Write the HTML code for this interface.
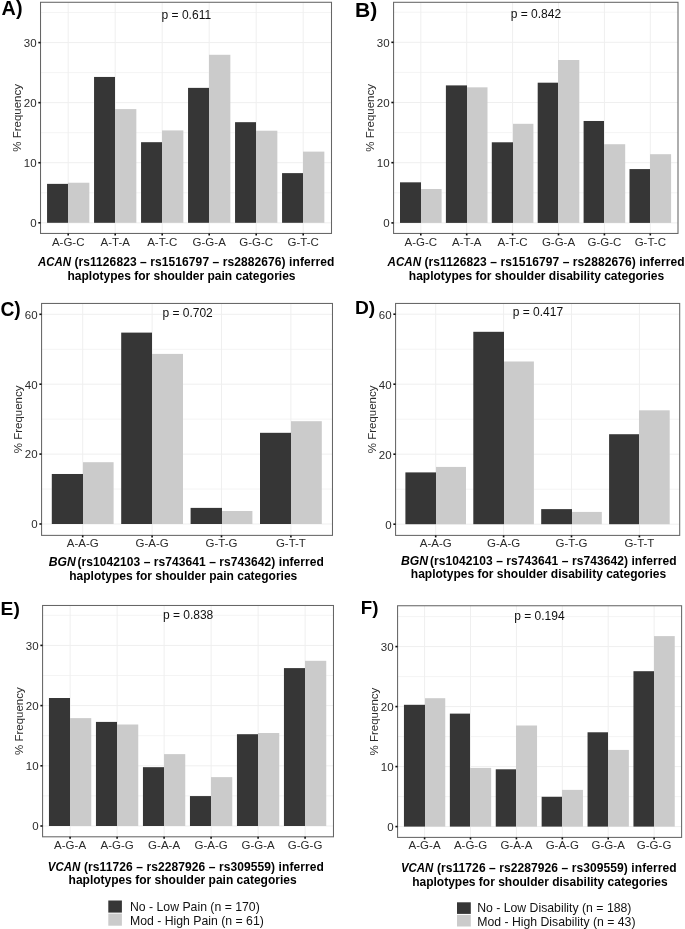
<!DOCTYPE html>
<html><head><meta charset="utf-8"><style>
html,body{margin:0;padding:0;background:#fff;}
body{width:685px;height:929px;overflow:hidden;}
svg{display:block;will-change:transform;}
text{font-family:"Liberation Sans",sans-serif;}
.tk{font-size:11.5px;fill:#2b2b2b;}
.yt{font-size:11.5px;fill:#2b2b2b;}
.pv{font-size:12.0px;fill:#111;}
.ti{font-size:12.0px;font-weight:bold;fill:#000;}
.lb{font-size:19.0px;font-weight:bold;fill:#000;}
.lg{font-size:12.25px;fill:#111;}
</style></head><body>
<svg width="685" height="929" viewBox="0 0 685 929">
<rect width="685" height="929" fill="#fff"/>
<line x1="40.52" x2="331.5" y1="192.77" y2="192.77" stroke="#f4f4f4" stroke-width="1"/>
<line x1="40.52" x2="331.5" y1="132.7" y2="132.7" stroke="#f4f4f4" stroke-width="1"/>
<line x1="40.52" x2="331.5" y1="72.63" y2="72.63" stroke="#f4f4f4" stroke-width="1"/>
<line x1="40.52" x2="331.5" y1="12.56" y2="12.56" stroke="#f4f4f4" stroke-width="1"/>
<line x1="40.52" x2="331.5" y1="222.8" y2="222.8" stroke="#efefef" stroke-width="1"/>
<line x1="40.52" x2="331.5" y1="162.73" y2="162.73" stroke="#efefef" stroke-width="1"/>
<line x1="40.52" x2="331.5" y1="102.66" y2="102.66" stroke="#efefef" stroke-width="1"/>
<line x1="40.52" x2="331.5" y1="42.59" y2="42.59" stroke="#efefef" stroke-width="1"/>
<line x1="68.2" x2="68.2" y1="2.28" y2="233.45" stroke="#efefef" stroke-width="1"/>
<line x1="115.2" x2="115.2" y1="2.28" y2="233.45" stroke="#efefef" stroke-width="1"/>
<line x1="162.2" x2="162.2" y1="2.28" y2="233.45" stroke="#efefef" stroke-width="1"/>
<line x1="209.2" x2="209.2" y1="2.28" y2="233.45" stroke="#efefef" stroke-width="1"/>
<line x1="256.2" x2="256.2" y1="2.28" y2="233.45" stroke="#efefef" stroke-width="1"/>
<line x1="303.2" x2="303.2" y1="2.28" y2="233.45" stroke="#efefef" stroke-width="1"/>
<rect x="68" y="182.73" width="21.35" height="40.07" fill="#cbcbcb"/>
<rect x="47.05" y="183.87" width="20.95" height="38.93" fill="#363636"/>
<rect x="115" y="109.09" width="21.35" height="113.71" fill="#cbcbcb"/>
<rect x="94.05" y="76.95" width="20.95" height="145.85" fill="#363636"/>
<rect x="162" y="130.41" width="21.35" height="92.39" fill="#cbcbcb"/>
<rect x="141.05" y="142.19" width="20.95" height="80.61" fill="#363636"/>
<rect x="209" y="54.78" width="21.35" height="168.02" fill="#cbcbcb"/>
<rect x="188.05" y="87.88" width="20.95" height="134.92" fill="#363636"/>
<rect x="256" y="130.71" width="21.35" height="92.09" fill="#cbcbcb"/>
<rect x="235.05" y="122.18" width="20.95" height="100.62" fill="#363636"/>
<rect x="303" y="151.62" width="21.35" height="71.18" fill="#cbcbcb"/>
<rect x="282.05" y="173.12" width="20.95" height="49.68" fill="#363636"/>
<rect x="40.52" y="2.28" width="290.98" height="231.17" fill="none" stroke="#666666" stroke-width="1.05"/>
<line x1="38.32" x2="40.52" y1="222.8" y2="222.8" stroke="#111111" stroke-width="1.6"/>
<text x="36.62" y="227.1" text-anchor="end" class="tk">0</text>
<line x1="38.32" x2="40.52" y1="162.73" y2="162.73" stroke="#111111" stroke-width="1.6"/>
<text x="36.62" y="167.03" text-anchor="end" class="tk">10</text>
<line x1="38.32" x2="40.52" y1="102.66" y2="102.66" stroke="#111111" stroke-width="1.6"/>
<text x="36.62" y="106.96" text-anchor="end" class="tk">20</text>
<line x1="38.32" x2="40.52" y1="42.59" y2="42.59" stroke="#111111" stroke-width="1.6"/>
<text x="36.62" y="46.89" text-anchor="end" class="tk">30</text>
<line x1="68.2" x2="68.2" y1="233.45" y2="235.45" stroke="#111111" stroke-width="1.6"/>
<text x="68.2" y="246.4" text-anchor="middle" class="tk">A-G-C</text>
<line x1="115.2" x2="115.2" y1="233.45" y2="235.45" stroke="#111111" stroke-width="1.6"/>
<text x="115.2" y="246.4" text-anchor="middle" class="tk">A-T-A</text>
<line x1="162.2" x2="162.2" y1="233.45" y2="235.45" stroke="#111111" stroke-width="1.6"/>
<text x="162.2" y="246.4" text-anchor="middle" class="tk">A-T-C</text>
<line x1="209.2" x2="209.2" y1="233.45" y2="235.45" stroke="#111111" stroke-width="1.6"/>
<text x="209.2" y="246.4" text-anchor="middle" class="tk">G-G-A</text>
<line x1="256.2" x2="256.2" y1="233.45" y2="235.45" stroke="#111111" stroke-width="1.6"/>
<text x="256.2" y="246.4" text-anchor="middle" class="tk">G-G-C</text>
<line x1="303.2" x2="303.2" y1="233.45" y2="235.45" stroke="#111111" stroke-width="1.6"/>
<text x="303.2" y="246.4" text-anchor="middle" class="tk">G-T-C</text>
<text transform="translate(20.92,117.86) rotate(-90)" text-anchor="middle" class="yt">% Frequency</text>
<text x="186.35" y="19" text-anchor="middle" class="pv">p = 0.611</text>
<text x="37.9" y="266.2" class="ti" font-style="italic" textLength="33" lengthAdjust="spacingAndGlyphs">ACAN</text>
<text x="74.4" y="266.2" class="ti" textLength="260" lengthAdjust="spacing">(rs1126823 – rs1516797 – rs2882676) inferred</text>
<text x="181.5" y="280" text-anchor="middle" class="ti">haplotypes for shoulder pain categories</text>
<text x="1.6" y="15" class="lb" style="font-size:19.8px">A)</text>
<line x1="393.57" x2="678" y1="192.8" y2="192.8" stroke="#f4f4f4" stroke-width="1"/>
<line x1="393.57" x2="678" y1="132.6" y2="132.6" stroke="#f4f4f4" stroke-width="1"/>
<line x1="393.57" x2="678" y1="72.4" y2="72.4" stroke="#f4f4f4" stroke-width="1"/>
<line x1="393.57" x2="678" y1="12.2" y2="12.2" stroke="#f4f4f4" stroke-width="1"/>
<line x1="393.57" x2="678" y1="222.9" y2="222.9" stroke="#efefef" stroke-width="1"/>
<line x1="393.57" x2="678" y1="162.7" y2="162.7" stroke="#efefef" stroke-width="1"/>
<line x1="393.57" x2="678" y1="102.5" y2="102.5" stroke="#efefef" stroke-width="1"/>
<line x1="393.57" x2="678" y1="42.3" y2="42.3" stroke="#efefef" stroke-width="1"/>
<line x1="420.8" x2="420.8" y1="2.3" y2="233.45" stroke="#efefef" stroke-width="1"/>
<line x1="466.7" x2="466.7" y1="2.3" y2="233.45" stroke="#efefef" stroke-width="1"/>
<line x1="512.6" x2="512.6" y1="2.3" y2="233.45" stroke="#efefef" stroke-width="1"/>
<line x1="558.5" x2="558.5" y1="2.3" y2="233.45" stroke="#efefef" stroke-width="1"/>
<line x1="604.4" x2="604.4" y1="2.3" y2="233.45" stroke="#efefef" stroke-width="1"/>
<line x1="650.3" x2="650.3" y1="2.3" y2="233.45" stroke="#efefef" stroke-width="1"/>
<rect x="421" y="189.01" width="20.6" height="33.89" fill="#cbcbcb"/>
<rect x="400" y="182.33" width="21" height="40.57" fill="#363636"/>
<rect x="467" y="87.33" width="20.5" height="135.57" fill="#cbcbcb"/>
<rect x="445.9" y="85.4" width="21.1" height="137.5" fill="#363636"/>
<rect x="513" y="123.81" width="20.4" height="99.09" fill="#cbcbcb"/>
<rect x="491.8" y="142.29" width="21.2" height="80.61" fill="#363636"/>
<rect x="558" y="60" width="21.3" height="162.9" fill="#cbcbcb"/>
<rect x="537.7" y="82.69" width="20.3" height="140.21" fill="#363636"/>
<rect x="604" y="144.22" width="21.2" height="78.68" fill="#cbcbcb"/>
<rect x="583.6" y="120.98" width="20.4" height="101.92" fill="#363636"/>
<rect x="650" y="154.21" width="21.1" height="68.69" fill="#cbcbcb"/>
<rect x="629.5" y="169.08" width="20.5" height="53.82" fill="#363636"/>
<rect x="393.57" y="2.3" width="284.43" height="231.15" fill="none" stroke="#666666" stroke-width="1.05"/>
<line x1="391.37" x2="393.57" y1="222.9" y2="222.9" stroke="#111111" stroke-width="1.6"/>
<text x="389.67" y="227.2" text-anchor="end" class="tk">0</text>
<line x1="391.37" x2="393.57" y1="162.7" y2="162.7" stroke="#111111" stroke-width="1.6"/>
<text x="389.67" y="167" text-anchor="end" class="tk">10</text>
<line x1="391.37" x2="393.57" y1="102.5" y2="102.5" stroke="#111111" stroke-width="1.6"/>
<text x="389.67" y="106.8" text-anchor="end" class="tk">20</text>
<line x1="391.37" x2="393.57" y1="42.3" y2="42.3" stroke="#111111" stroke-width="1.6"/>
<text x="389.67" y="46.6" text-anchor="end" class="tk">30</text>
<line x1="420.8" x2="420.8" y1="233.45" y2="235.45" stroke="#111111" stroke-width="1.6"/>
<text x="420.8" y="246.4" text-anchor="middle" class="tk">A-G-C</text>
<line x1="466.7" x2="466.7" y1="233.45" y2="235.45" stroke="#111111" stroke-width="1.6"/>
<text x="466.7" y="246.4" text-anchor="middle" class="tk">A-T-A</text>
<line x1="512.6" x2="512.6" y1="233.45" y2="235.45" stroke="#111111" stroke-width="1.6"/>
<text x="512.6" y="246.4" text-anchor="middle" class="tk">A-T-C</text>
<line x1="558.5" x2="558.5" y1="233.45" y2="235.45" stroke="#111111" stroke-width="1.6"/>
<text x="558.5" y="246.4" text-anchor="middle" class="tk">G-G-A</text>
<line x1="604.4" x2="604.4" y1="233.45" y2="235.45" stroke="#111111" stroke-width="1.6"/>
<text x="604.4" y="246.4" text-anchor="middle" class="tk">G-G-C</text>
<line x1="650.3" x2="650.3" y1="233.45" y2="235.45" stroke="#111111" stroke-width="1.6"/>
<text x="650.3" y="246.4" text-anchor="middle" class="tk">G-T-C</text>
<text transform="translate(373.97,117.88) rotate(-90)" text-anchor="middle" class="yt">% Frequency</text>
<text x="535.95" y="18" text-anchor="middle" class="pv">p = 0.842</text>
<text x="387.6" y="266.2" class="ti" font-style="italic" textLength="33.5" lengthAdjust="spacingAndGlyphs">ACAN</text>
<text x="424.5" y="266.2" class="ti" textLength="260" lengthAdjust="spacing">(rs1126823 – rs1516797 – rs2882676) inferred</text>
<text x="536.5" y="280" text-anchor="middle" class="ti">haplotypes for shoulder disability categories</text>
<text x="355" y="16.8" class="lb" style="font-size:21.1px">B)</text>
<line x1="41.57" x2="332.48" y1="489.05" y2="489.05" stroke="#f4f4f4" stroke-width="1"/>
<line x1="41.57" x2="332.48" y1="419.15" y2="419.15" stroke="#f4f4f4" stroke-width="1"/>
<line x1="41.57" x2="332.48" y1="349.25" y2="349.25" stroke="#f4f4f4" stroke-width="1"/>
<line x1="41.57" x2="332.48" y1="524" y2="524" stroke="#efefef" stroke-width="1"/>
<line x1="41.57" x2="332.48" y1="454.1" y2="454.1" stroke="#efefef" stroke-width="1"/>
<line x1="41.57" x2="332.48" y1="384.2" y2="384.2" stroke="#efefef" stroke-width="1"/>
<line x1="41.57" x2="332.48" y1="314.3" y2="314.3" stroke="#efefef" stroke-width="1"/>
<line x1="82.7" x2="82.7" y1="303.45" y2="535.38" stroke="#efefef" stroke-width="1"/>
<line x1="152.1" x2="152.1" y1="303.45" y2="535.38" stroke="#efefef" stroke-width="1"/>
<line x1="221.5" x2="221.5" y1="303.45" y2="535.38" stroke="#efefef" stroke-width="1"/>
<line x1="290.9" x2="290.9" y1="303.45" y2="535.38" stroke="#efefef" stroke-width="1"/>
<rect x="83" y="462.21" width="30.6" height="61.79" fill="#cbcbcb"/>
<rect x="51.8" y="473.99" width="31.2" height="50.01" fill="#363636"/>
<rect x="152" y="353.9" width="31" height="170.1" fill="#cbcbcb"/>
<rect x="121.2" y="332.61" width="30.8" height="191.39" fill="#363636"/>
<rect x="222" y="511" width="30.4" height="13" fill="#cbcbcb"/>
<rect x="190.6" y="507.89" width="31.4" height="16.11" fill="#363636"/>
<rect x="291" y="421.21" width="30.8" height="102.79" fill="#cbcbcb"/>
<rect x="260" y="432.82" width="31" height="91.18" fill="#363636"/>
<rect x="41.57" y="303.45" width="290.91" height="231.93" fill="none" stroke="#666666" stroke-width="1.05"/>
<line x1="39.37" x2="41.57" y1="524" y2="524" stroke="#111111" stroke-width="1.6"/>
<text x="37.67" y="528.3" text-anchor="end" class="tk">0</text>
<line x1="39.37" x2="41.57" y1="454.1" y2="454.1" stroke="#111111" stroke-width="1.6"/>
<text x="37.67" y="458.4" text-anchor="end" class="tk">20</text>
<line x1="39.37" x2="41.57" y1="384.2" y2="384.2" stroke="#111111" stroke-width="1.6"/>
<text x="37.67" y="388.5" text-anchor="end" class="tk">40</text>
<line x1="39.37" x2="41.57" y1="314.3" y2="314.3" stroke="#111111" stroke-width="1.6"/>
<text x="37.67" y="318.6" text-anchor="end" class="tk">60</text>
<line x1="82.7" x2="82.7" y1="535.38" y2="537.38" stroke="#111111" stroke-width="1.6"/>
<text x="82.7" y="547.2" text-anchor="middle" class="tk">A-A-G</text>
<line x1="152.1" x2="152.1" y1="535.38" y2="537.38" stroke="#111111" stroke-width="1.6"/>
<text x="152.1" y="547.2" text-anchor="middle" class="tk">G-A-G</text>
<line x1="221.5" x2="221.5" y1="535.38" y2="537.38" stroke="#111111" stroke-width="1.6"/>
<text x="221.5" y="547.2" text-anchor="middle" class="tk">G-T-G</text>
<line x1="290.9" x2="290.9" y1="535.38" y2="537.38" stroke="#111111" stroke-width="1.6"/>
<text x="290.9" y="547.2" text-anchor="middle" class="tk">G-T-T</text>
<text transform="translate(21.97,419.41) rotate(-90)" text-anchor="middle" class="yt">% Frequency</text>
<text x="187.6" y="316.8" text-anchor="middle" class="pv">p = 0.702</text>
<text x="48.7" y="566.2" class="ti" font-style="italic" textLength="27" lengthAdjust="spacingAndGlyphs">BGN</text>
<text x="77.5" y="566.2" class="ti" textLength="246.4" lengthAdjust="spacing">(rs1042103 – rs743641 – rs743642) inferred</text>
<text x="183.25" y="579.8" text-anchor="middle" class="ti">haplotypes for shoulder pain categories</text>
<text x="0.4" y="315.8" class="lb" style="font-size:19.3px">C)</text>
<line x1="395.57" x2="679.7" y1="489.2" y2="489.2" stroke="#f4f4f4" stroke-width="1"/>
<line x1="395.57" x2="679.7" y1="419.2" y2="419.2" stroke="#f4f4f4" stroke-width="1"/>
<line x1="395.57" x2="679.7" y1="349.2" y2="349.2" stroke="#f4f4f4" stroke-width="1"/>
<line x1="395.57" x2="679.7" y1="524.2" y2="524.2" stroke="#efefef" stroke-width="1"/>
<line x1="395.57" x2="679.7" y1="454.2" y2="454.2" stroke="#efefef" stroke-width="1"/>
<line x1="395.57" x2="679.7" y1="384.2" y2="384.2" stroke="#efefef" stroke-width="1"/>
<line x1="395.57" x2="679.7" y1="314.2" y2="314.2" stroke="#efefef" stroke-width="1"/>
<line x1="435.7" x2="435.7" y1="303.45" y2="535.4" stroke="#efefef" stroke-width="1"/>
<line x1="503.6" x2="503.6" y1="303.45" y2="535.4" stroke="#efefef" stroke-width="1"/>
<line x1="571.5" x2="571.5" y1="303.45" y2="535.4" stroke="#efefef" stroke-width="1"/>
<line x1="639.4" x2="639.4" y1="303.45" y2="535.4" stroke="#efefef" stroke-width="1"/>
<rect x="436" y="466.91" width="30" height="57.3" fill="#cbcbcb"/>
<rect x="405.4" y="472.4" width="30.6" height="51.8" fill="#363636"/>
<rect x="504" y="361.49" width="29.9" height="162.72" fill="#cbcbcb"/>
<rect x="473.3" y="331.81" width="30.7" height="192.39" fill="#363636"/>
<rect x="572" y="511.92" width="29.8" height="12.29" fill="#cbcbcb"/>
<rect x="541.2" y="509.12" width="30.8" height="15.08" fill="#363636"/>
<rect x="639" y="410.31" width="30.7" height="113.89" fill="#cbcbcb"/>
<rect x="609.1" y="434.22" width="29.9" height="89.98" fill="#363636"/>
<rect x="395.57" y="303.45" width="284.13" height="231.95" fill="none" stroke="#666666" stroke-width="1.05"/>
<line x1="393.37" x2="395.57" y1="524.2" y2="524.2" stroke="#111111" stroke-width="1.6"/>
<text x="391.67" y="528.5" text-anchor="end" class="tk">0</text>
<line x1="393.37" x2="395.57" y1="454.2" y2="454.2" stroke="#111111" stroke-width="1.6"/>
<text x="391.67" y="458.5" text-anchor="end" class="tk">20</text>
<line x1="393.37" x2="395.57" y1="384.2" y2="384.2" stroke="#111111" stroke-width="1.6"/>
<text x="391.67" y="388.5" text-anchor="end" class="tk">40</text>
<line x1="393.37" x2="395.57" y1="314.2" y2="314.2" stroke="#111111" stroke-width="1.6"/>
<text x="391.67" y="318.5" text-anchor="end" class="tk">60</text>
<line x1="435.7" x2="435.7" y1="535.4" y2="537.4" stroke="#111111" stroke-width="1.6"/>
<text x="435.7" y="547.2" text-anchor="middle" class="tk">A-A-G</text>
<line x1="503.6" x2="503.6" y1="535.4" y2="537.4" stroke="#111111" stroke-width="1.6"/>
<text x="503.6" y="547.2" text-anchor="middle" class="tk">G-A-G</text>
<line x1="571.5" x2="571.5" y1="535.4" y2="537.4" stroke="#111111" stroke-width="1.6"/>
<text x="571.5" y="547.2" text-anchor="middle" class="tk">G-T-G</text>
<line x1="639.4" x2="639.4" y1="535.4" y2="537.4" stroke="#111111" stroke-width="1.6"/>
<text x="639.4" y="547.2" text-anchor="middle" class="tk">G-T-T</text>
<text transform="translate(375.97,419.42) rotate(-90)" text-anchor="middle" class="yt">% Frequency</text>
<text x="537.9" y="315.8" text-anchor="middle" class="pv">p = 0.417</text>
<text x="400.9" y="565" class="ti" font-style="italic" textLength="27.2" lengthAdjust="spacingAndGlyphs">BGN</text>
<text x="429.9" y="565" class="ti" textLength="246.7" lengthAdjust="spacing">(rs1042103 – rs743641 – rs743642) inferred</text>
<text x="538.5" y="578" text-anchor="middle" class="ti">haplotypes for shoulder disability categories</text>
<text x="355" y="314.1" class="lb" style="font-size:19.2px">D)</text>
<line x1="42.57" x2="333.48" y1="795.9" y2="795.9" stroke="#f4f4f4" stroke-width="1"/>
<line x1="42.57" x2="333.48" y1="735.7" y2="735.7" stroke="#f4f4f4" stroke-width="1"/>
<line x1="42.57" x2="333.48" y1="675.5" y2="675.5" stroke="#f4f4f4" stroke-width="1"/>
<line x1="42.57" x2="333.48" y1="615.3" y2="615.3" stroke="#f4f4f4" stroke-width="1"/>
<line x1="42.57" x2="333.48" y1="826" y2="826" stroke="#efefef" stroke-width="1"/>
<line x1="42.57" x2="333.48" y1="765.8" y2="765.8" stroke="#efefef" stroke-width="1"/>
<line x1="42.57" x2="333.48" y1="705.6" y2="705.6" stroke="#efefef" stroke-width="1"/>
<line x1="42.57" x2="333.48" y1="645.4" y2="645.4" stroke="#efefef" stroke-width="1"/>
<line x1="70.1" x2="70.1" y1="605.48" y2="836.8" stroke="#efefef" stroke-width="1"/>
<line x1="117.1" x2="117.1" y1="605.48" y2="836.8" stroke="#efefef" stroke-width="1"/>
<line x1="164.1" x2="164.1" y1="605.48" y2="836.8" stroke="#efefef" stroke-width="1"/>
<line x1="211.1" x2="211.1" y1="605.48" y2="836.8" stroke="#efefef" stroke-width="1"/>
<line x1="258.1" x2="258.1" y1="605.48" y2="836.8" stroke="#efefef" stroke-width="1"/>
<line x1="305.1" x2="305.1" y1="605.48" y2="836.8" stroke="#efefef" stroke-width="1"/>
<rect x="70" y="718.12" width="21.25" height="107.88" fill="#cbcbcb"/>
<rect x="48.95" y="698.01" width="21.05" height="127.99" fill="#363636"/>
<rect x="117" y="724.5" width="21.25" height="101.5" fill="#cbcbcb"/>
<rect x="95.95" y="721.91" width="21.05" height="104.09" fill="#363636"/>
<rect x="164" y="754.12" width="21.25" height="71.88" fill="#cbcbcb"/>
<rect x="142.95" y="767.18" width="21.05" height="58.82" fill="#363636"/>
<rect x="211" y="777.12" width="21.25" height="48.88" fill="#cbcbcb"/>
<rect x="189.95" y="796.08" width="21.05" height="29.92" fill="#363636"/>
<rect x="258" y="732.99" width="21.25" height="93.01" fill="#cbcbcb"/>
<rect x="236.95" y="734.2" width="21.05" height="91.8" fill="#363636"/>
<rect x="305" y="660.81" width="21.25" height="165.19" fill="#cbcbcb"/>
<rect x="283.95" y="668.1" width="21.05" height="157.9" fill="#363636"/>
<rect x="42.57" y="605.48" width="290.91" height="231.32" fill="none" stroke="#666666" stroke-width="1.05"/>
<line x1="40.37" x2="42.57" y1="826" y2="826" stroke="#111111" stroke-width="1.6"/>
<text x="38.67" y="830.3" text-anchor="end" class="tk">0</text>
<line x1="40.37" x2="42.57" y1="765.8" y2="765.8" stroke="#111111" stroke-width="1.6"/>
<text x="38.67" y="770.1" text-anchor="end" class="tk">10</text>
<line x1="40.37" x2="42.57" y1="705.6" y2="705.6" stroke="#111111" stroke-width="1.6"/>
<text x="38.67" y="709.9" text-anchor="end" class="tk">20</text>
<line x1="40.37" x2="42.57" y1="645.4" y2="645.4" stroke="#111111" stroke-width="1.6"/>
<text x="38.67" y="649.7" text-anchor="end" class="tk">30</text>
<line x1="70.1" x2="70.1" y1="836.8" y2="838.8" stroke="#111111" stroke-width="1.6"/>
<text x="70.1" y="848.9" text-anchor="middle" class="tk">A-G-A</text>
<line x1="117.1" x2="117.1" y1="836.8" y2="838.8" stroke="#111111" stroke-width="1.6"/>
<text x="117.1" y="848.9" text-anchor="middle" class="tk">A-G-G</text>
<line x1="164.1" x2="164.1" y1="836.8" y2="838.8" stroke="#111111" stroke-width="1.6"/>
<text x="164.1" y="848.9" text-anchor="middle" class="tk">G-A-A</text>
<line x1="211.1" x2="211.1" y1="836.8" y2="838.8" stroke="#111111" stroke-width="1.6"/>
<text x="211.1" y="848.9" text-anchor="middle" class="tk">G-A-G</text>
<line x1="258.1" x2="258.1" y1="836.8" y2="838.8" stroke="#111111" stroke-width="1.6"/>
<text x="258.1" y="848.9" text-anchor="middle" class="tk">G-G-A</text>
<line x1="305.1" x2="305.1" y1="836.8" y2="838.8" stroke="#111111" stroke-width="1.6"/>
<text x="305.1" y="848.9" text-anchor="middle" class="tk">G-G-G</text>
<text transform="translate(22.97,721.14) rotate(-90)" text-anchor="middle" class="yt">% Frequency</text>
<text x="188.1" y="619.4" text-anchor="middle" class="pv">p = 0.838</text>
<text x="47.8" y="870.5" class="ti" font-style="italic" textLength="32.6" lengthAdjust="spacingAndGlyphs">VCAN</text>
<text x="84" y="870.5" class="ti" textLength="239.9" lengthAdjust="spacing">(rs11726 – rs2287926 – rs309559) inferred</text>
<text x="182.6" y="884" text-anchor="middle" class="ti">haplotypes for shoulder pain categories</text>
<text x="0.6" y="614.7" class="lb" style="font-size:19.2px">E)</text>
<line x1="397.57" x2="681.6" y1="796.6" y2="796.6" stroke="#f4f4f4" stroke-width="1"/>
<line x1="397.57" x2="681.6" y1="736.6" y2="736.6" stroke="#f4f4f4" stroke-width="1"/>
<line x1="397.57" x2="681.6" y1="676.6" y2="676.6" stroke="#f4f4f4" stroke-width="1"/>
<line x1="397.57" x2="681.6" y1="616.6" y2="616.6" stroke="#f4f4f4" stroke-width="1"/>
<line x1="397.57" x2="681.6" y1="826.6" y2="826.6" stroke="#efefef" stroke-width="1"/>
<line x1="397.57" x2="681.6" y1="766.6" y2="766.6" stroke="#efefef" stroke-width="1"/>
<line x1="397.57" x2="681.6" y1="706.6" y2="706.6" stroke="#efefef" stroke-width="1"/>
<line x1="397.57" x2="681.6" y1="646.6" y2="646.6" stroke="#efefef" stroke-width="1"/>
<line x1="424.6" x2="424.6" y1="605.75" y2="837.4" stroke="#efefef" stroke-width="1"/>
<line x1="470.5" x2="470.5" y1="605.75" y2="837.4" stroke="#efefef" stroke-width="1"/>
<line x1="516.4" x2="516.4" y1="605.75" y2="837.4" stroke="#efefef" stroke-width="1"/>
<line x1="562.3" x2="562.3" y1="605.75" y2="837.4" stroke="#efefef" stroke-width="1"/>
<line x1="608.2" x2="608.2" y1="605.75" y2="837.4" stroke="#efefef" stroke-width="1"/>
<line x1="654.1" x2="654.1" y1="605.75" y2="837.4" stroke="#efefef" stroke-width="1"/>
<rect x="425" y="698.2" width="20.25" height="128.4" fill="#cbcbcb"/>
<rect x="403.95" y="704.8" width="21.05" height="121.8" fill="#363636"/>
<rect x="470" y="767.92" width="21.15" height="58.68" fill="#cbcbcb"/>
<rect x="449.85" y="713.62" width="20.15" height="112.98" fill="#363636"/>
<rect x="516" y="725.5" width="21.05" height="101.1" fill="#cbcbcb"/>
<rect x="495.75" y="769.3" width="20.25" height="57.3" fill="#363636"/>
<rect x="562" y="789.88" width="20.95" height="36.72" fill="#cbcbcb"/>
<rect x="541.64" y="796.78" width="20.36" height="29.82" fill="#363636"/>
<rect x="608" y="749.92" width="20.86" height="76.68" fill="#cbcbcb"/>
<rect x="587.55" y="732.28" width="20.45" height="94.32" fill="#363636"/>
<rect x="654" y="636.1" width="20.75" height="190.5" fill="#cbcbcb"/>
<rect x="633.45" y="671.2" width="20.55" height="155.4" fill="#363636"/>
<rect x="397.57" y="605.75" width="284.03" height="231.65" fill="none" stroke="#666666" stroke-width="1.05"/>
<line x1="395.37" x2="397.57" y1="826.6" y2="826.6" stroke="#111111" stroke-width="1.6"/>
<text x="393.67" y="830.9" text-anchor="end" class="tk">0</text>
<line x1="395.37" x2="397.57" y1="766.6" y2="766.6" stroke="#111111" stroke-width="1.6"/>
<text x="393.67" y="770.9" text-anchor="end" class="tk">10</text>
<line x1="395.37" x2="397.57" y1="706.6" y2="706.6" stroke="#111111" stroke-width="1.6"/>
<text x="393.67" y="710.9" text-anchor="end" class="tk">20</text>
<line x1="395.37" x2="397.57" y1="646.6" y2="646.6" stroke="#111111" stroke-width="1.6"/>
<text x="393.67" y="650.9" text-anchor="end" class="tk">30</text>
<line x1="424.6" x2="424.6" y1="837.4" y2="839.4" stroke="#111111" stroke-width="1.6"/>
<text x="424.6" y="849.1" text-anchor="middle" class="tk">A-G-A</text>
<line x1="470.5" x2="470.5" y1="837.4" y2="839.4" stroke="#111111" stroke-width="1.6"/>
<text x="470.5" y="849.1" text-anchor="middle" class="tk">A-G-G</text>
<line x1="516.4" x2="516.4" y1="837.4" y2="839.4" stroke="#111111" stroke-width="1.6"/>
<text x="516.4" y="849.1" text-anchor="middle" class="tk">G-A-A</text>
<line x1="562.3" x2="562.3" y1="837.4" y2="839.4" stroke="#111111" stroke-width="1.6"/>
<text x="562.3" y="849.1" text-anchor="middle" class="tk">G-A-G</text>
<line x1="608.2" x2="608.2" y1="837.4" y2="839.4" stroke="#111111" stroke-width="1.6"/>
<text x="608.2" y="849.1" text-anchor="middle" class="tk">G-G-A</text>
<line x1="654.1" x2="654.1" y1="837.4" y2="839.4" stroke="#111111" stroke-width="1.6"/>
<text x="654.1" y="849.1" text-anchor="middle" class="tk">G-G-G</text>
<text transform="translate(377.97,721.58) rotate(-90)" text-anchor="middle" class="yt">% Frequency</text>
<text x="539.4" y="619.7" text-anchor="middle" class="pv">p = 0.194</text>
<text x="400.9" y="872.4" class="ti" font-style="italic" textLength="32.4" lengthAdjust="spacingAndGlyphs">VCAN</text>
<text x="436.9" y="872.4" class="ti" textLength="239.7" lengthAdjust="spacing">(rs11726 – rs2287926 – rs309559) inferred</text>
<text x="539.9" y="885.6" text-anchor="middle" class="ti">haplotypes for shoulder disability categories</text>
<text x="360.7" y="614.4" class="lb" style="font-size:18.75px">F)</text>
<rect x="108.3" y="900.5" width="13.6" height="12.1" fill="#363636"/>
<rect x="108.3" y="913.6" width="13.6" height="12.1" fill="#cbcbcb"/>
<text x="130" y="911" class="lg">No - Low Pain (n = 170)</text>
<text x="130" y="925.1" class="lg">Mod - High Pain (n = 61)</text>
<rect x="457" y="902.3" width="13.8" height="11.6" fill="#363636"/>
<rect x="457" y="914.9" width="13.8" height="11.6" fill="#cbcbcb"/>
<text x="477.2" y="911.5" class="lg">No - Low Disability (n = 188)</text>
<text x="477.2" y="925.5" class="lg">Mod - High Disability (n = 43)</text>
</svg>
</body></html>
